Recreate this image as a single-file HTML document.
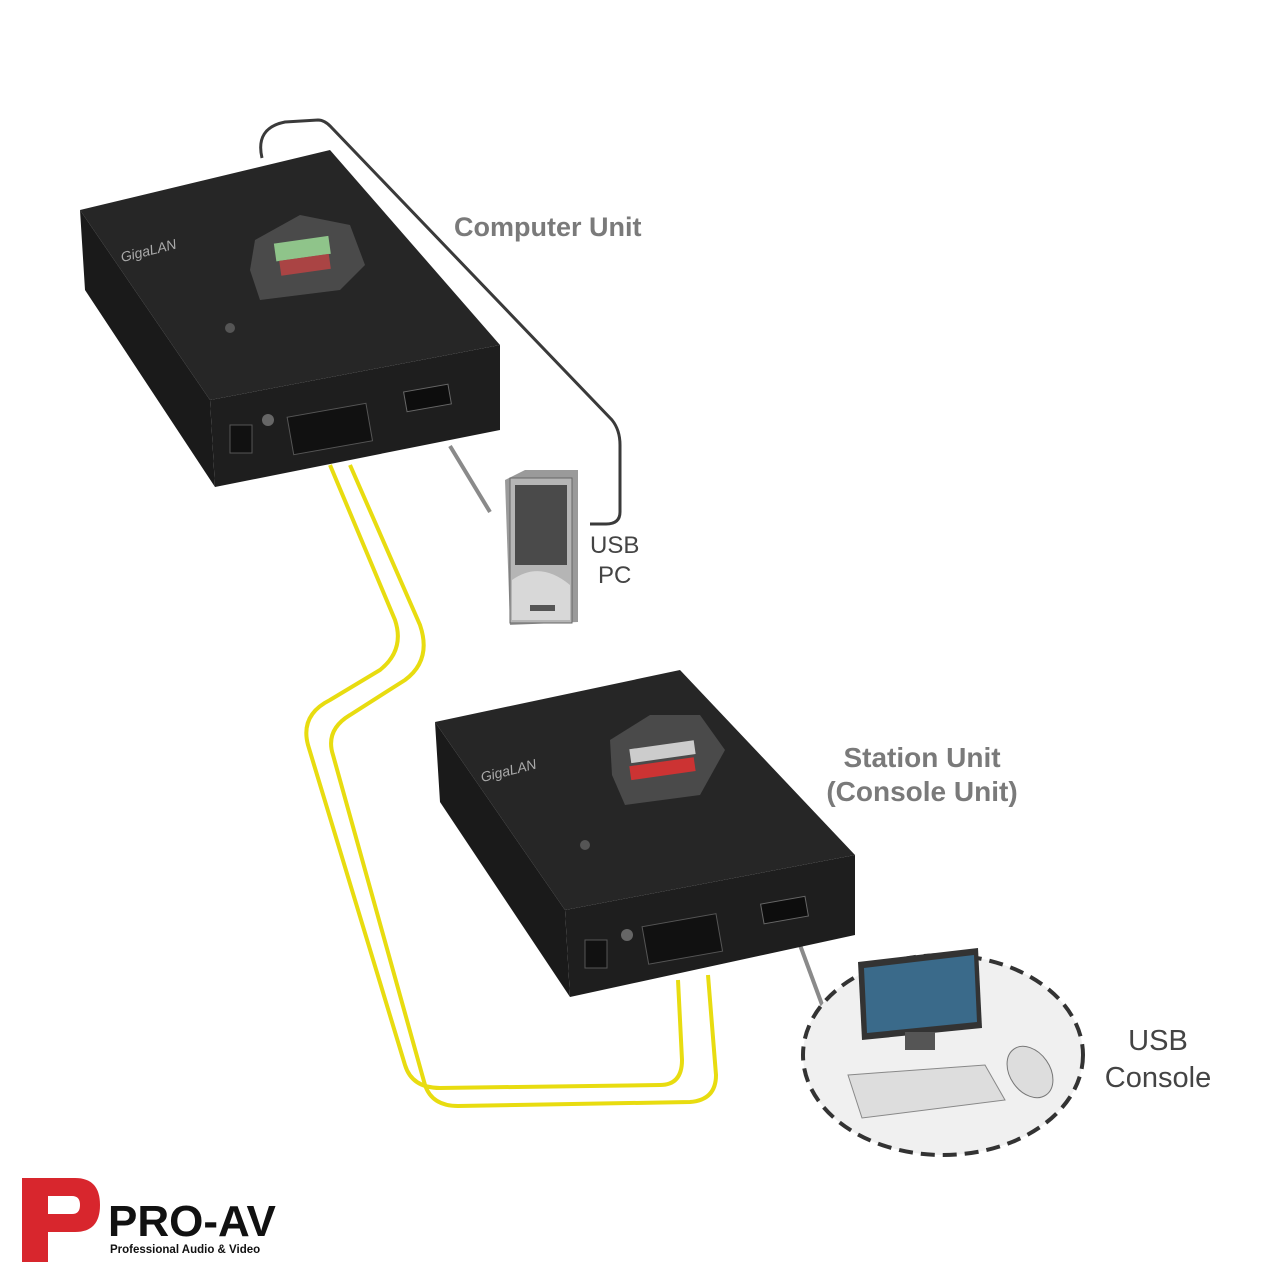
<!DOCTYPE html>
<html><head><meta charset="utf-8"><style>
html,body{margin:0;padding:0;background:#fff}
svg{display:block}
</style></head><body>
<svg width="1280" height="1280" viewBox="0 0 1280 1280" xmlns="http://www.w3.org/2000/svg" font-family="Liberation Sans, sans-serif">
<rect width="1280" height="1280" fill="#fff"/>

<path d="M262,158 Q255,128 285,122 L318,120 Q325,120 332,128 L612,420 Q620,430 620,445 L620,512 Q620,524 606,524 L590,524" fill="none" stroke="#3a3a3a" stroke-width="3"/>

<g fill="none" stroke="#e8dc10" stroke-width="4">
<path d="M330,465 L395,620 Q405,650 380,670 L330,700 Q300,715 308,745 L405,1065 Q412,1088 440,1088 L660,1085 Q682,1085 682,1060 L678,980"/>
<path d="M350,465 L420,625 Q432,660 405,680 L350,715 Q325,730 333,755 L425,1085 Q432,1106 458,1106 L690,1102 Q716,1100 716,1075 L708,975"/>
</g>

<line x1="450" y1="446" x2="490" y2="512" stroke="#8a8a8a" stroke-width="4"/>
<line x1="800" y1="945" x2="824" y2="1010" stroke="#8a8a8a" stroke-width="4"/>

<g>
<polygon points="80,210 330,150 500,345 210,400" fill="#262626"/>
<polygon points="80,210 210,400 215,487 85,290" fill="#1a1a1a"/>
<polygon points="210,400 500,345 500,430 215,487" fill="#1e1e1e"/>
<polygon points="255,240 300,215 350,225 365,265 340,290 260,300 250,270" fill="#4a4a4a"/>
<rect x="275" y="240" width="55" height="18" fill="#8fc48a" transform="rotate(-8 300 250)"/>
<rect x="280" y="258" width="50" height="15" fill="#a44" transform="rotate(-8 300 265)"/>
<rect x="290" y="410" width="80" height="38" fill="#111" stroke="#555" transform="rotate(-10 330 430)"/>
<rect x="405" y="388" width="45" height="20" fill="#0d0d0d" stroke="#666" transform="rotate(-10 427 398)"/>
<rect x="230" y="425" width="22" height="28" fill="#111" stroke="#555"/>
<circle cx="268" cy="420" r="6" fill="#666"/>
<circle cx="230" cy="328" r="5" fill="#555"/>
<text x="120" y="255" fill="#aaa" font-size="14" font-style="italic" transform="rotate(-14 150 250)">GigaLAN</text>
</g>

<g>
<polygon points="505,480 525,470 578,470 578,622 510,625" fill="#9a9a9a"/>
<rect x="510" y="478" width="62" height="145" fill="#b5b5b5" stroke="#666"/>
<rect x="515" y="485" width="52" height="80" fill="#4a4a4a"/>
<path d="M512,580 Q540,560 570,585 L570,620 L512,620 Z" fill="#d8d8d8"/>
<rect x="530" y="605" width="25" height="6" fill="#555"/>
</g>

<g>
<polygon points="435,722 680,670 855,855 565,910" fill="#262626"/>
<polygon points="435,722 565,910 570,997 440,802" fill="#1a1a1a"/>
<polygon points="565,910 855,855 855,935 570,997" fill="#1e1e1e"/>
<polygon points="610,740 650,715 700,715 725,750 700,795 625,805 612,775" fill="#4a4a4a"/>
<rect x="630" y="745" width="65" height="14" fill="#ccc" transform="rotate(-8 660 752)"/>
<rect x="630" y="762" width="65" height="14" fill="#c33" transform="rotate(-8 660 769)"/>
<rect x="645" y="920" width="75" height="38" fill="#111" stroke="#555" transform="rotate(-10 682 940)"/>
<rect x="762" y="900" width="45" height="20" fill="#0d0d0d" stroke="#666" transform="rotate(-10 785 910)"/>
<rect x="585" y="940" width="22" height="28" fill="#111" stroke="#555"/>
<circle cx="627" cy="935" r="6" fill="#666"/>
<circle cx="585" cy="845" r="5" fill="#555"/>
<text x="480" y="775" fill="#aaa" font-size="14" font-style="italic" transform="rotate(-14 510 770)">GigaLAN</text>
</g>

<ellipse cx="943" cy="1055" rx="140" ry="100" fill="#f0f0f0" stroke="#333" stroke-width="4" stroke-dasharray="14,8"/>
<polygon points="858,962 978,948 982,1028 862,1040" fill="#333"/>
<polygon points="864,968 974,955 977,1022 867,1033" fill="#3a6a8a"/>
<rect x="905" y="1032" width="30" height="18" fill="#555"/>
<polygon points="848,1075 985,1065 1005,1100 862,1118" fill="#ddd" stroke="#888"/>
<ellipse cx="1030" cy="1072" rx="20" ry="28" fill="#ddd" stroke="#777" transform="rotate(-35 1030 1072)"/>

<text x="454" y="236" font-size="27" font-weight="bold" fill="#7a7a7a">Computer Unit</text>
<text x="590" y="553" font-size="24" fill="#444">USB</text>
<text x="598" y="583" font-size="24" fill="#444">PC</text>
<text x="922" y="767" font-size="28" font-weight="bold" fill="#7a7a7a" text-anchor="middle">Station Unit</text>
<text x="922" y="801" font-size="28" font-weight="bold" fill="#7a7a7a" text-anchor="middle">(Console Unit)</text>
<text x="1158" y="1050" font-size="29" fill="#444" text-anchor="middle">USB</text>
<text x="1158" y="1087" font-size="29" fill="#444" text-anchor="middle">Console</text>

<path d="M22,1178 L75,1178 Q100,1178 100,1205 Q100,1232 75,1232 L48,1232 L48,1262 L22,1262 Z" fill="#d8262d"/>
<path d="M48,1196 L72,1196 Q80,1196 80,1205 Q80,1214 72,1214 L48,1214 Z" fill="#fff"/>
<text x="108" y="1236" font-size="44" font-weight="bold" fill="#111" font-family="Liberation Sans Narrow, Liberation Sans, sans-serif">PRO-AV</text>
<text x="110" y="1253" font-size="11.5" font-weight="bold" fill="#111">Professional Audio &amp; Video</text>
</svg>
</body></html>
